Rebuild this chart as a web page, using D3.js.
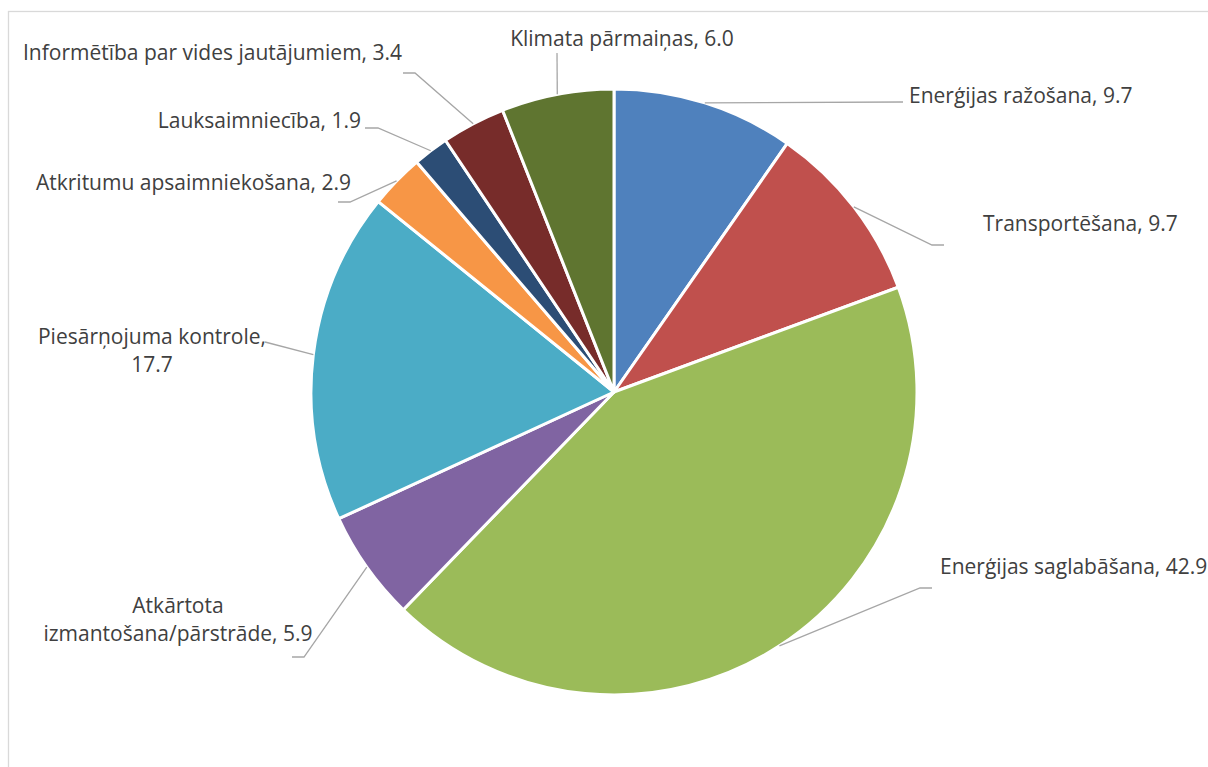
<!DOCTYPE html>
<html lang="lv">
<head>
<meta charset="UTF-8" />
<title>Pie chart</title>
<script src="https://d3js.org/d3.v7.min.js"></script>
<style>
  html, body { margin: 0; padding: 0; background: #fff; }
  .label { font-family: "Open Sans", Lato, sans-serif; font-size: 21px; fill: #404040; }
</style>
</head>
<body>
<div id="chart"></div>
<script>
// data, clockwise from 12 o'clock
var categories = [
  "Enerģijas ražošana",
  "Transportēšana",
  "Enerģijas saglabāšana",
  "Atkārtota izmantošana/pārstrāde",
  "Piesārņojuma kontrole",
  "Atkritumu apsaimniekošana",
  "Lauksaimniecība",
  "Informētība par vides jautājumiem",
  "Klimata pārmaiņas"
];
var values = [9.7, 9.7, 42.9, 5.9, 17.7, 2.9, 1.9, 3.4, 6.0];
// how each label's text is broken into lines
var labelLines = [
  ["Enerģijas ražošana, 9.7"],
  ["Transportēšana, 9.7"],
  ["Enerģijas saglabāšana, 42.9"],
  ["Atkārtota", "izmantošana/pārstrāde, 5.9"],
  ["Piesārņojuma kontrole,", "17.7"],
  ["Atkritumu apsaimniekošana, 2.9"],
  ["Lauksaimniecība, 1.9"],
  ["Informētība par vides jautājumiem, 3.4"],
  ["Klimata pārmaiņas, 6.0"]
];
var colors = ["#4f81bd", "#c0504d", "#9bbb59", "#8064a2", "#4bacc6",
              "#f79646", "#2c4d75", "#772c2a", "#5f7530"];

// label placement (layout only): anchor, text position, leader bends
var labelLayout = [
  {anchor: "start",  x: 909, y: 103, leader: [[903, 102]]},
  {anchor: "start",  x: 983, y: 231, leader: [[932, 245], [944, 245]]},
  {anchor: "start",  x: 940, y: 574, leader: [[920, 588], [932, 588]]},
  {anchor: "middle", x: 178, y: 613, leader: [[304, 657], [292, 657]]},
  {anchor: "middle", x: 152, y: 344, leader: [[265, 342]]},
  {anchor: "end",    x: 351, y: 190, leader: [[350, 202], [338, 202]]},
  {anchor: "end",    x: 361, y: 128, leader: [[378, 128], [365, 128]]},
  {anchor: "end",    x: 402, y: 60,  leader: [[415, 73], [403, 73]]},
  {anchor: "middle", x: 622, y: 46,  leader: [[557, 53]]}
];

var W = 1208, H = 767;
var cx = 614, cy = 392, radius = 303;

var svg = d3.select("#chart").append("svg")
  .attr("width", W).attr("height", H);

// chart area border
svg.append("rect")
  .attr("x", 8.5).attr("y", 11.5)
  .attr("width", W + 20).attr("height", H + 20)
  .attr("fill", "none")
  .attr("stroke", "#d9d9d9")
  .attr("stroke-width", 1.3);

var data = categories.map(function(c, i) { return {name: c, value: values[i], i: i}; });

var pie = d3.pie().sort(null).value(function(d) { return d.value; });
var arcs = pie(data);

var arc = d3.arc().innerRadius(0).outerRadius(radius);

var g = svg.append("g").attr("transform", "translate(" + cx + "," + cy + ")");

g.selectAll("path.slice")
  .data(arcs)
  .enter()
  .append("path")
    .attr("class", "slice")
    .attr("d", arc)
    .attr("fill", function(d) { return colors[d.data.i]; })
    .attr("stroke", "#fff")
    .attr("stroke-width", 3)
    .attr("stroke-linejoin", "round");

// leader lines: start on the arc at each slice's middle angle
var line = d3.line();
svg.selectAll("path.leader")
  .data(arcs)
  .enter()
  .append("path")
    .attr("class", "leader")
    .attr("d", function(d) {
      var a = (d.startAngle + d.endAngle) / 2;
      var p0 = [cx + radius * Math.sin(a), cy - radius * Math.cos(a)];
      var lay = labelLayout[d.data.i];
      return line([p0].concat(lay.leader));
    })
    .attr("fill", "none")
    .attr("stroke", "#a6a6a6")
    .attr("stroke-width", 1.3);

// labels
var labels = svg.selectAll("text.label")
  .data(arcs)
  .enter()
  .append("text")
    .attr("class", "label")
    .attr("text-anchor", function(d) { return labelLayout[d.data.i].anchor; });

labels.each(function(d) {
  var lay = labelLayout[d.data.i];
  d3.select(this).selectAll("tspan")
    .data(labelLines[d.data.i])
    .enter()
    .append("tspan")
      .attr("x", lay.x)
      .attr("y", function(t, k) { return lay.y + k * 28; })
      .text(function(t) { return t; });
});
</script>
</body>
</html>
